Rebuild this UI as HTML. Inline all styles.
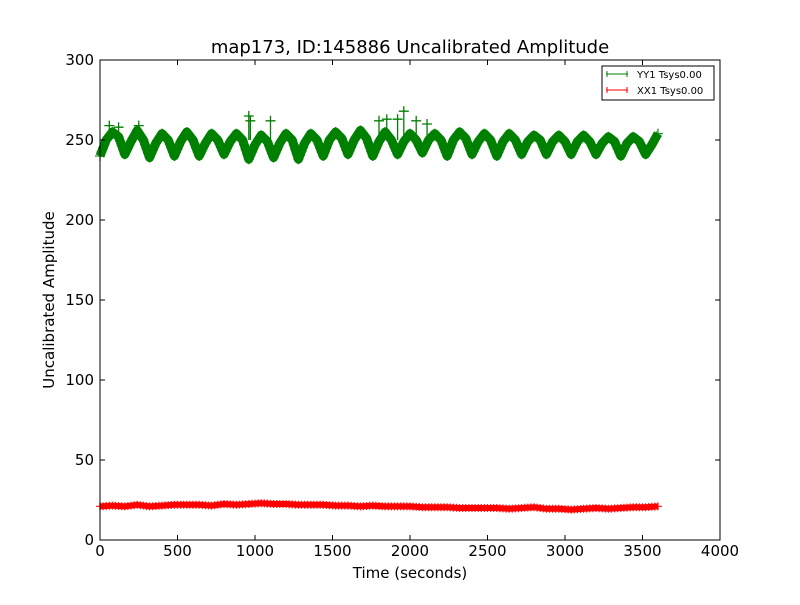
<!DOCTYPE html>
<html><head><meta charset="utf-8"><style>
body{margin:0;background:#fff}
svg text{font-family:"DejaVu Sans","Liberation Sans",sans-serif}
</style></head><body>
<svg id="chart" width="800" height="600" xmlns="http://www.w3.org/2000/svg">
<rect width="800" height="600" fill="#fff"/>
<text x="410" y="53" font-size="18" text-anchor="middle">map173, ID:145886 Uncalibrated Amplitude</text>
<g id="marks"></g>
<rect x="100" y="60" width="620" height="480" fill="none" stroke="#000" stroke-width="1"/>
<g id="ticks"></g>
<text x="410" y="578" font-size="15" text-anchor="middle">Time (seconds)</text>
<text x="54" y="300" font-size="15" text-anchor="middle" transform="rotate(-90 54 300)">Uncalibrated Amplitude</text>
<g>
<rect x="602" y="66" width="112" height="34" fill="#fff" stroke="#000" stroke-width="1"/>
<g>
<line x1="606" y1="74" x2="628" y2="74" stroke="#008000"/><line x1="607" y1="71" x2="607" y2="77" stroke="#008000"/><line x1="627" y1="71" x2="627" y2="77" stroke="#008000"/>
<text x="637" y="78" font-size="10">YY1 Tsys0.00</text></g>
<g>
<line x1="606" y1="90" x2="628" y2="90" stroke="#f00"/><line x1="607" y1="87" x2="607" y2="93" stroke="#f00"/><line x1="627" y1="87" x2="627" y2="93" stroke="#f00"/>
<text x="637" y="94" font-size="10">XX1 Tsys0.00</text></g>
</g>
</svg>
<script>
const xTicks=[0,500,1000,1500,2000,2500,3000,3500,4000];
const yTicks=[0,50,100,150,200,250,300];
const greenStep=40;
const greenValues=[240,250,255,252,241,249,256,250,239,248,254,250,240,249,255,250,240,248,254,250,241,249,254,250,238,247,253,249,239,248,254,250,238,248,254,250,240,250,255,251,241,250,256,251,240,249,255,250,241,249,254,250,242,250,254,250,240,250,255,251,241,249,254,250,240,249,254,250,241,249,253,250,241,249,253,249,241,249,253,249,241,248,252,249,240,248,252,249,241,247,254];
const greenSpikeT=[60,120,250,960,970,1100,1800,1850,1920,1960,2040,2110];
const greenSpikeV=[259,258,259,265,262,262,262,263,263,268,262,260];
const redStep=80;
const redValues=[21,21.5,21,22,21,21.5,22,22,22,21.5,22.5,22,22.5,23,22.5,22.5,22,22,22,21.5,21.5,21,21.5,21,21,21,20.5,20.5,20.5,20,20,20,20,19.5,20,20.5,19.5,19.5,19,19.5,20,19.5,20,20.5,20.5,21];
const xS=v=>100+v*620/4000, yS=v=>540-v*480/300;
const ns="http://www.w3.org/2000/svg";
const marks=document.getElementById('marks'), ticks=document.getElementById('ticks');
function mk(tag,attrs,parent){const e=document.createElementNS(ns,tag);for(const k in attrs)e.setAttribute(k,attrs[k]);parent.appendChild(e);return e;}
xTicks.forEach(t=>{const x=xS(t);
 const g=mk('g',{},ticks);
 
 
 mk('line',{x1:x,y1:540,x2:x,y2:535,stroke:'#000'},g);mk('line',{x1:x,y1:60,x2:x,y2:65,stroke:'#000'},g);
 const tx=mk('text',{x:x,y:556,'font-size':15,'text-anchor':'middle'},g);tx.textContent=t;});
yTicks.forEach(t=>{const y=yS(t);
 const g=mk('g',{},ticks);
 
 
 mk('line',{x1:100,y1:y,x2:105,y2:y,stroke:'#000'},g);mk('line',{x1:720,y1:y,x2:715,y2:y,stroke:'#000'},g);
 const tx=mk('text',{x:94,y:y+5,'font-size':15,'text-anchor':'end'},g);tx.textContent=t;});
function series(vals,step,color,name,w,arm){
 const g=mk('g',{},marks);
 
 
 const pts=vals.map((v,i)=>xS(i*step).toFixed(1)+','+yS(v).toFixed(1)).join(' ');
 mk('polyline',{points:pts,fill:'none',stroke:color,'stroke-width':w,'stroke-linejoin':'round'},g);
 let d='';
 for(let i=0;i<vals.length-1;i++){
  for(let f=0;f<1;f+=0.25){
   const x=xS((i+f)*step), y=yS(vals[i]+(vals[i+1]-vals[i])*f);
   d+=`M${(x-arm).toFixed(1)},${y.toFixed(1)}h${2*arm}M${x.toFixed(1)},${(y-arm).toFixed(1)}v${2*arm}`;
  }
 }
 const last=vals.length-1, lx=xS(last*step), ly=yS(vals[last]);
 d+=`M${lx-arm},${ly}h${2*arm}M${lx},${ly-arm}v${2*arm}`;
 mk('path',{d:d,stroke:color,'stroke-width':1.3,opacity:0.85},g);
 return g;}
series(greenValues,greenStep,'#008000','series-yy1',9,5);
const gs=mk('g',{},marks);


greenSpikeT.forEach((t,i)=>{const x=xS(t),y=yS(greenSpikeV[i]);
 mk('path',{d:`M${x},${y-5}V${yS(250)}M${x-5},${y}h10`,stroke:'#008000','stroke-width':1.3},gs);});
series(redValues,redStep,'#ff0000','series-xx1',6,4);
</script>
</body></html>
